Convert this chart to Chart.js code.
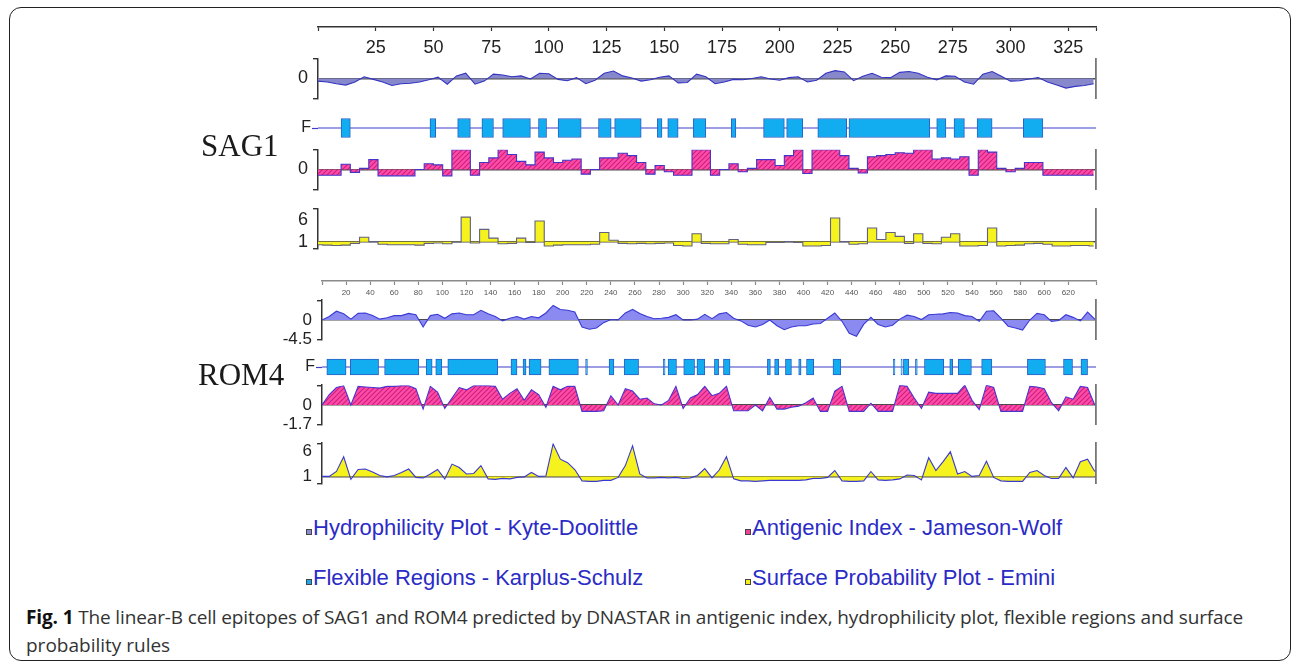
<!DOCTYPE html>
<html lang="en">
<head>
<meta charset="UTF-8">
<title>Linear-B cell epitopes of SAG1 and ROM4</title>
<script src="https://cdn.jsdelivr.net/npm/chart.js"></script>
<style>
    body {
        margin: 0;
        width: 1292px;
        height: 664px;
        position: relative;
        overflow: hidden;
        background: #fff;
        font-family: 'Liberation Sans', Arial, sans-serif;
    }

    .frame {
        position: absolute;
        left: 9px;
        top: 7px;
        width: 1282px;
        height: 654px;
        border: 1.5px solid #222;
        border-radius: 12px;
        box-sizing: border-box;
    }

    canvas {
        position: absolute;
    }

    .protein {
        position: absolute;
        font-family: 'Liberation Serif', 'Times New Roman', serif;
        font-size: 31px;
        line-height: 31px;
        color: #1a1a1a;
    }

    .legend {
        position: absolute;
        font-size: 22px;
        line-height: 26px;
        color: #2b2bc6;
        white-space: nowrap;
    }

    .legend i {
        display: inline-block;
        width: 4px;
        height: 4px;
        border: 1px solid #444;
        margin-right: 1px;
    }

    .caption {
        position: absolute;
        left: 26px;
        font-family: 'Open Sans', 'Noto Sans', sans-serif;
        font-size: 19px;
        line-height: 26px;
        color: #333;
        white-space: nowrap;
    }

    .caption b {
        color: #111;
    }
</style>
</head>

<body>
<div class="frame"></div>
<div id="tracks"></div>

<div class="protein" style="left:201px; top:130px;">SAG1</div>
<div class="protein" style="left:198px; top:359px;">ROM4</div>

<div class="legend" style="left:306px; top:515px;"><i style="background:#8a8ad0"></i>Hydrophilicity Plot - Kyte-Doolittle</div>
<div class="legend" style="left:306px; top:565px;"><i style="background:#1aa8ee"></i>Flexible Regions - Karplus-Schulz</div>
<div class="legend" style="left:745px; top:515px;"><i style="background:#f0409a"></i>Antigenic Index - Jameson-Wolf</div>
<div class="legend" style="left:745px; top:565px;"><i style="background:#f4f020"></i>Surface Probability Plot - Emini</div>

<div class="caption" id="cap1" style="top:604px;"><b>Fig. 1</b> The linear-B cell epitopes of SAG1 and ROM4 predicted by DNASTAR in antigenic index, hydrophilicity plot, flexible regions and surface</div>
<div class="caption" style="top:632px;">probability rules</div>

<script>
    // ---- SAG1 (residues sampled every 4) ----
    const sag1Max = 337;
    const sag1Step = 4;
    const sag1Ticks = [25, 50, 75, 100, 125, 150, 175, 200, 225, 250, 275, 300, 325];
    const sag1Hydro = [
        -0.6, -0.8, -1.2, -1.5, -0.8, 0.4, -0.2, -0.8, -1.6, -1.2,
        -1.1, -0.8, -0.3, 0.3, -1.3, 0.6, 1.2, -1.3, -0.6, 1.0,
        0.8, 0.4, 0.6, -0.1, 1.2, 1.1, -0.2, -0.5, 0.2, -1.2,
        -0.4, 1.2, 1.7, 0.6, 0.1, -0.6, -0.3, 0.3, 0.6, -1.0,
        -0.9, 1.0, 0.4, -1.2, -0.8, -0.2, -0.3, 0.0, 0.4, -0.1,
        -0.4, 0.2, 0.4, -0.8, -0.4, 1.2, 1.8, 1.5, -0.5, 0.5,
        1.2, 0.3, 0.2, 1.4, 1.6, 1.2, 0.3, -0.3, 0.6, 0.5,
        -0.8, -1.3, 1.0, 1.6, 0.5, -0.6, -0.5, -0.1, 0.2, -0.8,
        -1.5, -2.2, -1.8, -1.6, -1.2
    ];
    const sag1Antigenic = [
        -0.5, -0.5, -0.5, 0.45, -0.25, 0.1, 0.85, -0.55, -0.55, -0.55,
        -0.55, 0.0, 0.5, 0.4, -0.55, 1.7, 1.7, -0.5, 0.6, 1.0,
        1.7, 1.3, 0.7, 0.4, 1.5, 1.0, 0.6, 0.8, 0.9, -0.4,
        0.0, 1.0, 1.0, 1.4, 1.2, 0.6, -0.4, 0.35, -0.2, -0.5,
        -0.5, 1.7, 1.7, -0.5, 0.0, 0.5, -0.2, 0.1, 0.85, 0.85,
        0.35, 1.2, 1.7, -0.35, 1.7, 1.7, 1.7, 1.2, 0.1, -0.3,
        1.1, 1.2, 1.3, 1.45, 1.4, 1.7, 1.7, 0.9, 1.0, 0.9,
        1.1, -0.5, 1.7, 1.5, 0.1, -0.2, 0.1, 0.6, 0.6, -0.5,
        -0.5, -0.5, -0.5, -0.5, -0.5
    ];
    const sag1Surface = [
        0.3, 0.2, 0.1, 0.2, 0.6, 2.0, 1.0, 0.4, 0.3, 0.3,
        0.3, 0.2, 0.6, 0.7, 0.5, 0.9, 6.6, 0.7, 3.8, 1.8,
        0.5, 0.6, 1.8, 0.8, 5.7, 0.0, 0.2, 0.3, 0.3, 0.3,
        0.4, 3.1, 1.3, 0.6, 0.5, 0.6, 0.5, 0.6, 0.7, 0.1,
        0.0, 2.8, 0.6, 0.5, 0.5, 1.5, 0.4, 0.3, 0.3, 0.8,
        0.8, 1.0, 0.8, 0.0, 0.0, 0.1, 6.4, 1.0, 0.4, 0.5,
        4.1, 1.5, 3.1, 2.2, 0.6, 2.8, 0.6, 0.5, 2.0, 2.8,
        0.0, 0.0, 0.1, 4.1, 0.0, 0.1, 0.2, 0.5, 0.6, 0.4,
        0.0, 0.0, 0.1, 0.1, 0.0
    ];
    const sag1Flexible = [
        [10, 14], [48.5, 51], [60.5, 66], [71, 76], [80, 92], [95.5, 99], [104, 114],
        [121.5, 127], [128.5, 140], [147, 149], [151.5, 156], [162.5, 168], [179, 181],
        [193, 202], [203, 210], [216.5, 229], [230, 265], [268, 272], [275.5, 280],
        [285.5, 292], [305.5, 314]
    ];

    // ---- ROM4 (residues sampled every 6) ----
    const rom4Max = 643;
    const rom4Step = 6;
    const rom4Ticks = [20, 40, 60, 80, 100, 120, 140, 160, 180, 200, 220, 240, 260, 280, 300,
        320, 340, 360, 380, 400, 420, 440, 460, 480, 500, 520, 540, 560, 580, 600, 620];
    const rom4Hydro = [
        0.0, 0.8, 2.0, 1.4, 0.2, 1.5, 1.6, 1.0, 0.2, 0.5,
        1.0, 1.0, 1.5, 1.2, -1.6, 1.0, 1.3, 0.4, 1.4, 1.6,
        1.2, 1.2, 2.2, 1.4, 0.8, -0.2, 0.4, 0.8, 0.2, 0.8,
        0.5, 1.6, 3.3, 2.4, 2.2, 1.8, -1.6, -2.1, -1.8, -0.6,
        0.1, 0.0, 1.6, 2.4, 1.5, 0.8, 0.3, 0.4, 0.6, 1.2,
        0.0, 0.0, 0.2, 1.3, 0.3, 1.4, 1.7, 0.4, -0.2, -1.2,
        -1.6, -1.0, 0.0, -1.3, -2.2, -1.6, -1.3, -1.3, -0.9, -0.8,
        0.4, 1.6, -0.3, -3.0, -3.7, -1.0, 0.6, -1.0, -1.6, -1.2,
        0.2, 1.1, 0.8, 0.1, 1.2, 1.3, 1.4, 1.7, 1.6, 1.0,
        0.8, -0.3, 2.0, 2.1, 0.4, -1.4, -1.8, -2.3, 0.0, 1.5,
        1.2, -0.3, -0.1, 1.2, 0.6, -0.2, 1.8, 0.2
    ];
    const rom4Antigenic = [
        0.0, 0.9, 1.5, 1.65, 0.0, 1.6, 1.55, 1.5, 1.45, 1.6,
        1.6, 1.65, 1.65, 1.4, -0.35, 1.6, 1.1, -0.3, 0.6, 1.5,
        1.3, 1.65, 1.65, 1.65, 1.6, 0.5, 1.0, 1.4, 0.4, 1.3,
        0.9, -0.2, 1.6, 1.3, 1.6, 1.6, -0.55, -0.55, -0.55, -0.5,
        0.8, 0.0, 1.4, 1.2, 0.5, 0.6, 0.1, 0.0, 0.4, 1.6,
        -0.3, 0.6, 0.9, 1.6, 0.8, 1.0, 1.6, -0.5, -0.5, -0.5,
        0.0, -0.5, 0.65, -0.35, -0.35, -0.2, -0.1, 0.2, 0.6, -0.55,
        -0.55, 1.2, 1.6, -0.55, -0.55, -0.55, 0.15, -0.55, -0.55, -0.55,
        1.7, 1.6, 0.6, -0.3, 1.1, 1.0, 1.0, 1.0, 1.0, 1.7,
        0.4, -0.4, 1.7, 1.5, -0.55, -0.55, -0.55, -0.55, 1.6, 1.55,
        1.4, 0.2, -0.5, 0.7, 0.5, 1.6, 1.5, 0.0
    ];
    const rom4Surface = [
        1.0, 1.0, 2.0, 5.0, 0.4, 2.4, 2.5, 1.9, 1.2, 0.9,
        1.2, 1.8, 2.5, 0.8, 0.7, 1.5, 2.4, 0.5, 3.5, 2.8,
        1.5, 1.6, 3.2, 0.5, 0.4, 0.6, 0.5, 0.8, 0.9, 1.8,
        1.0, 1.1, 7.6, 4.5, 3.8, 2.4, 0.1, 0.0, 0.0, 0.2,
        0.2, 0.8, 3.2, 7.2, 1.5, 0.7, 0.7, 0.8, 0.7, 0.8,
        0.6, 0.7, 1.2, 2.6, 0.7, 2.3, 5.0, 0.5, 0.1, 0.1,
        0.0, 0.1, 0.2, 0.2, 0.2, 0.2, 0.2, 0.3, 0.6, 0.6,
        0.8, 2.2, 0.1, 0.0, 0.0, 0.1, 2.0, 0.3, 0.2, 0.3,
        0.5, 1.3, 1.2, 0.3, 4.8, 2.2, 4.0, 6.0, 1.5, 2.0,
        1.0, 1.2, 4.1, 0.8, 0.1, 0.0, 0.0, 0.0, 1.8, 2.2,
        1.2, 0.6, 0.6, 2.8, 0.7, 4.0, 4.5, 2.0
    ];
    const rom4Flexible = [
        [4, 20], [23.5, 47], [52, 80.5], [86.5, 91.5], [94.5, 99.5], [104.5, 146], [157, 162],
        [167, 169.5], [172, 182], [188.5, 213], [219, 220.5], [238.5, 242.5], [251, 263],
        [283.5, 285], [287.5, 294.5], [300.5, 309.5], [311.5, 318], [326, 329.5], [333.5, 339],
        [370, 372.5], [376, 379.5], [385, 390], [396, 398], [402.5, 408.5], [424.5, 431],
        [474.5, 476], [481, 482], [483, 487.5], [493, 494.5], [500.5, 516.5], [521.5, 524],
        [528.5, 539.5], [548, 556.5], [586, 601], [616, 623.5], [630.5, 636]
    ];

    // ---- drawing helpers ----
    const Y_W = 70, R_W = 10, PAD = 12;
    const holder = document.getElementById('tracks');

    function makeCanvas(left, top, w, h) {
        const c = document.createElement('canvas');
        c.width = w;
        c.height = h;
        c.style.left = left + 'px';
        c.style.top = top + 'px';
        c.style.width = w + 'px';
        c.style.height = h + 'px';
        holder.appendChild(c);
        return c;
    }

    function hatchPattern() {
        const p = document.createElement('canvas');
        p.width = 5;
        p.height = 5;
        const g = p.getContext('2d');
        g.fillStyle = '#ff4aa8';
        g.fillRect(0, 0, 5, 5);
        g.strokeStyle = '#c8207c';
        g.lineWidth = 1.1;
        g.beginPath();
        g.moveTo(0, 5); g.lineTo(5, 0);
        g.moveTo(-1, 1); g.lineTo(1, -1);
        g.moveTo(4, 6); g.lineTo(6, 4);
        g.stroke();
        return g.createPattern(p, 'repeat');
    }
    const hatch = hatchPattern();

    const baseOpts = {
        responsive: false,
        animation: false,
        events: [],
        plugins: { legend: { display: false }, tooltip: { enabled: false } }
    };

    function points(values, step) {
        return values.map((v, i) => ({ x: i * step, y: v }));
    }

    // top ruler with residue numbers
    function rulerChart(p, ticks, font, color) {
        const h = 40;
        const c = makeCanvas(p.left - Y_W, p.axisY - 10, p.right - p.left + Y_W + R_W, h);
        new Chart(c, {
            type: 'line',
            data: { datasets: [] },
            options: {
                ...baseOpts,
                layout: { padding: { left: Y_W, right: R_W, top: 0, bottom: 0 } },
                scales: {
                    x: {
                        type: 'linear', position: 'bottom', min: 0, max: p.max, offset: false,
                        afterFit: s => { s.height = h - 10; },
                        afterBuildTicks: s => { s.ticks = [0, ...ticks, p.max].map(v => ({ value: v })); },
                        ticks: {
                            autoSkip: false, maxRotation: 0, color: color, font: font, padding: p.labelPad,
                            callback: v => (v === 0 || v === p.max) ? '' : v
                        },
                        grid: { drawOnChartArea: false, tickLength: 4, tickColor: p.lineColor, tickWidth: 1.2 },
                        border: { color: p.lineColor, width: 1.5 }
                    },
                    y: { display: false, min: 0, max: 1 }
                }
            }
        });
    }

    // one data track (hydrophilicity, antigenic, surface)
    function dataTrack(p, top, bottom, t) {
        const c = makeCanvas(p.left - Y_W, top - PAD, p.right - p.left + Y_W + R_W, bottom - top + 2 * PAD);
        const ends = [t.min, t.max];
        new Chart(c, {
            type: 'line',
            data: {
                datasets: [{
                    data: points(t.values, p.step),
                    borderColor: t.line,
                    borderWidth: 1.1,
                    backgroundColor: t.fill,
                    fill: { value: t.base },
                    pointRadius: 0,
                    stepped: t.stepped || false,
                    tension: 0
                }]
            },
            options: {
                ...baseOpts,
                layout: { padding: { top: PAD, bottom: PAD, left: 0, right: 0 } },
                scales: {
                    x: { type: 'linear', display: false, min: 0, max: p.max, offset: false },
                    y: {
                        min: t.min, max: t.max, z: 1,
                        afterFit: s => { s.width = Y_W; },
                        afterBuildTicks: s => { s.ticks = t.ticks.map(v => ({ value: v })); },
                        ticks: {
                            autoSkip: false, padding: 5, color: '#222',
                            font: { family: "'Liberation Sans', Arial, sans-serif", size: t.fontSize },
                            callback: v => (t.labels[v] !== undefined ? t.labels[v] : '')
                        },
                        grid: {
                            lineWidth: 1.4, tickLength: 5, tickWidth: 1.4,
                            color: ctx => (ctx.tick && ctx.tick.value === t.base) ? '#4a4a4a' : 'rgba(0,0,0,0)',
                            tickColor: ctx => (ctx.tick && ends.includes(ctx.tick.value)) ? '#333' : 'rgba(0,0,0,0)'
                        },
                        border: { color: '#333', width: 1.5 }
                    },
                    yr: {
                        position: 'right', min: t.min, max: t.max,
                        afterFit: s => { s.width = R_W; },
                        ticks: { display: false },
                        grid: { display: false },
                        border: { color: '#777', width: 1.8 }
                    }
                }
            }
        });
    }

    // flexible regions track
    function flexTrack(p, center, half, regions, barH) {
        const top = center - half, bottom = center + half;
        const c = makeCanvas(p.left - Y_W, top - PAD, p.right - p.left + Y_W + R_W, bottom - top + 2 * PAD);
        new Chart(c, {
            type: 'bar',
            data: {
                datasets: [{
                    type: 'bar',
                    indexAxis: 'y',
                    data: regions.map(r => ({ x: r, y: 1 })),
                    backgroundColor: '#12adf0',
                    borderColor: '#2d5fc4',
                    borderWidth: 1,
                    borderSkipped: false,
                    barThickness: barH,
                    order: 1
                }, {
                    type: 'line',
                    data: [{ x: 0, y: 1 }, { x: p.max, y: 1 }],
                    borderColor: '#3c3cc8',
                    borderWidth: 1.2,
                    pointRadius: 0,
                    order: 2
                }]
            },
            options: {
                ...baseOpts,
                layout: { padding: { top: PAD, bottom: PAD, left: 0, right: R_W } },
                scales: {
                    x: {
                        type: 'linear', display: false, min: 0, max: p.max,
                        offset: false, grid: { offset: false }
                    },
                    y: {
                        type: 'linear', min: 0, max: 2, offset: false,
                        afterFit: s => { s.width = Y_W; },
                        afterBuildTicks: s => { s.ticks = [{ value: 1 }]; },
                        ticks: {
                            padding: 1, color: '#222',
                            font: { family: "'Liberation Sans', Arial, sans-serif", size: 16 },
                            callback: () => 'F'
                        },
                        grid: {
                            offset: false, drawOnChartArea: false,
                            tickLength: 6, tickColor: '#3c3cc8', tickWidth: 1.2
                        },
                        border: { display: false }
                    }
                }
            }
        });
    }

    // ---- SAG1 panel ----
    const sag1 = { left: 318, right: 1096, max: sag1Max, step: sag1Step, axisY: 27, labelPad: 6, lineColor: '#333' };
    rulerChart(sag1, sag1Ticks, { family: "'Liberation Sans', Arial, sans-serif", size: 18 }, '#222');
    dataTrack(sag1, 55, 102, {
        values: sag1Hydro, min: -4.5, max: 4.5, base: 0, ticks: [-4.5, 0, 4.5], labels: { 0: '0' },
        line: '#3434c2', fill: '#8787cc', fontSize: 18
    });
    flexTrack(sag1, 128, 10, sag1Flexible, 19);
    dataTrack(sag1, 146, 193, {
        values: sag1Antigenic, min: -1.7, max: 1.7, base: 0, ticks: [-1.7, 0, 1.7], labels: { 0: '0' },
        line: '#4434c8', fill: hatch, fontSize: 18, stepped: 'middle'
    });
    dataTrack(sag1, 205, 252, {
        values: sag1Surface, min: -0.5, max: 8.5, base: 1, ticks: [-0.5, 1, 6, 8.5], labels: { 1: '1', 6: '6' },
        line: '#62627e', fill: '#f6f21e', fontSize: 18, stepped: 'middle'
    });

    // ---- ROM4 panel ----
    const rom4 = { left: 322, right: 1096, max: rom4Max, step: rom4Step, axisY: 281, labelPad: 3, lineColor: '#8a8a8a' };
    rulerChart(rom4, rom4Ticks, { family: "'Liberation Sans', Arial, sans-serif", size: 8 }, '#555');
    dataTrack(rom4, 297, 343, {
        values: rom4Hydro, min: -4.5, max: 4.5, base: 0, ticks: [-4.5, 0, 4.5], labels: { 0: '0', '-4.5': '-4.5' },
        line: '#3a3ad4', fill: '#8a8af0', fontSize: 17
    });
    flexTrack(rom4, 367, 9, rom4Flexible, 16);
    dataTrack(rom4, 382, 428, {
        values: rom4Antigenic, min: -1.7, max: 1.7, base: 0, ticks: [-1.7, 0, 1.7], labels: { 0: '0', '-1.7': '-1.7' },
        line: '#4a34d0', fill: hatch, fontSize: 17
    });
    dataTrack(rom4, 440, 487, {
        values: rom4Surface, min: -0.5, max: 7.75, base: 1, ticks: [-0.5, 1, 6, 7.75], labels: { 1: '1', 6: '6' },
        line: '#3a3ad0', fill: '#f6f21e', fontSize: 17
    });

    // stretch caption line so it ends where the printed one does
    const cap = document.getElementById('cap1');
    const extra = (1217 - cap.getBoundingClientRect().width) / cap.textContent.length;
    cap.style.letterSpacing = extra.toFixed(3) + 'px';
</script>
</body>
</html>
